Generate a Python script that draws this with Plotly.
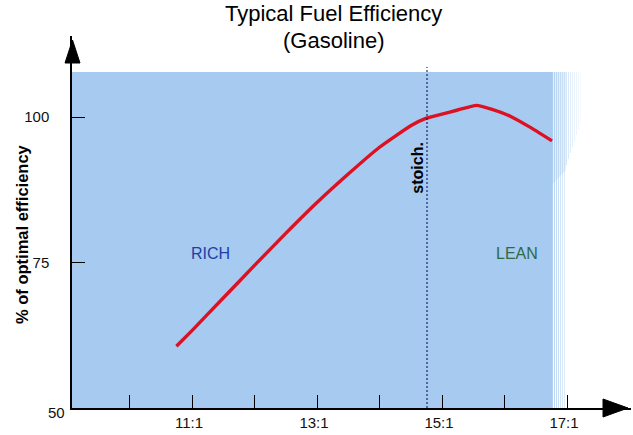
import plotly.graph_objects as go

# ---- data ----
afr_ratio = [10.75, 11.0, 11.5, 12.0, 12.5, 13.0, 13.5, 14.0, 14.5, 14.75, 15.0, 15.25, 15.55, 15.8, 16.1, 16.4, 16.76]
efficiency = [60.6, 63.3, 68.9, 74.5, 80.0, 85.3, 90.2, 94.8, 98.5, 99.8, 100.5, 101.2, 102.0, 101.3, 100.1, 98.3, 95.9]
x_tick_vals = [10, 11, 12, 13, 14, 15, 16, 17]
x_tick_text = ["", "11:1", "", "13:1", "", "15:1", "", "17:1"]
y_tick_vals = [75, 100]
y_tick_text = ["75", "100"]
stoich_ratio = 14.76

# ---- geometry (pixels) ----
W, H = 633, 435
ML, MR, MT, MB = 72, 2, 36, 27
X0_PX, X_UNIT = 129.5, 62.5      # pixel of x=10, px per unit
Y0_PX, Y_UNIT = 408.0, 5.82      # pixel of y=50, px per unit

def dx(p):
    return 10 + (p - X0_PX) / X_UNIT

def dy(p):
    return 50 + (Y0_PX - p) / Y_UNIT

def ppx(p):
    return (p - ML) / (W - ML - MR)

def ppy(p):
    return (H - MB - p) / (H - MT - MB)

xr = [dx(ML), dx(W - MR)]
yr = [50, dy(MT)]

BLUE = "#A6CAF0"
FONT = "Liberation Sans"

fig = go.Figure()
fig.add_trace(go.Scatter(
    x=afr_ratio, y=efficiency, mode="lines",
    line=dict(color="#DD1122", width=3.4, shape="spline", smoothing=0.4),
    hoverinfo="skip", showlegend=False,
))

shapes = []
# background panel
shapes.append(dict(type="rect", xref="x", yref="y", x0=xr[0], x1=dx(552), y0=50, y1=dy(72),
                   fillcolor=BLUE, line=dict(width=0), layer="below"))
# fading right edge stripes
for i, p in enumerate(range(552, 566, 2)):
    shapes.append(dict(type="rect", xref="x", yref="y", x0=dx(p), x1=dx(p + 1), y0=50, y1=dy(72),
                       fillcolor=BLUE, opacity=0.85 - i * 0.08, line=dict(width=0), layer="below"))
# dithered upper fade
for i, p in enumerate(range(566, 582, 2)):
    shapes.append(dict(type="rect", xref="x", yref="y", x0=dx(p), x1=dx(p + 1), y0=dy(165 - i * 6), y1=dy(72),
                       fillcolor=BLUE, opacity=0.45 - i * 0.05, line=dict(width=0), layer="below"))
shapes.append(dict(type="path", xref="x", yref="y",
                   path=f"M {dx(552)},{dy(72)} L {dx(566)},{dy(72)} L {dx(566)},{dy(170)} L {dx(552)},{dy(185)} Z",
                   fillcolor=BLUE, opacity=0.3, line=dict(width=0), layer="below"))
# stoichiometric line
shapes.append(dict(type="line", xref="x", yref="y", x0=stoich_ratio, x1=stoich_ratio, y0=50, y1=dy(67),
                   line=dict(color="#00004A", width=1, dash="2px,2px")))
# axis arrows (paper coords so they are not clipped)
shapes.append(dict(type="path", xref="paper", yref="paper",
                   path=f"M {ppx(628)},{ppy(408)} L {ppx(603)},{ppy(399)} L {ppx(603)},{ppy(417)} Z",
                   fillcolor="black", line=dict(color="black", width=1)))
shapes.append(dict(type="path", xref="paper", yref="paper",
                   path=f"M {ppx(72.5)},{ppy(40)} L {ppx(65)},{ppy(63)} L {ppx(80)},{ppy(63)} Z",
                   fillcolor="black", line=dict(color="black", width=1)))

C = dict(xanchor="center", yanchor="middle", showarrow=False)
annotations = [
    dict(text="Typical Fuel Efficiency", xref="paper", yref="paper", x=ppx(333.5), y=ppy(13),
         font=dict(family=FONT, size=22, color="black"), **C),
    dict(text="(Gasoline)", xref="paper", yref="paper", x=ppx(333.5), y=ppy(40),
         font=dict(family=FONT, size=22, color="black"), **C),
    dict(text="% of optimal efficiency", xref="paper", yref="paper", x=ppx(22), y=ppy(234), textangle=-90,
         font=dict(family=FONT, size=16.5, color="black", weight="bold"), **C),
    dict(text="50", xref="paper", yref="paper", x=ppx(56.7), y=ppy(412),
         font=dict(family=FONT, size=15, color="#111111"), **C),
    dict(text="stoich.", x=dx(416.7), y=dy(168), xref="x", yref="y", textangle=-90,
         font=dict(family=FONT, size=16, color="black", weight="bold"), **C),
    dict(text="RICH", x=dx(210.5), y=dy(253), xref="x", yref="y",
         font=dict(family=FONT, size=16, color="#1E3FA6"), **C),
    dict(text="LEAN", x=dx(517), y=dy(253), xref="x", yref="y",
         font=dict(family=FONT, size=16, color="#2F6A48"), **C),
]

fig.update_layout(
    width=W, height=H,
    margin=dict(l=ML, r=MR, t=MT, b=MB, pad=0),
    paper_bgcolor="white", plot_bgcolor="white",
    showlegend=False,
    shapes=shapes, annotations=annotations,
    xaxis=dict(range=xr, tickvals=x_tick_vals, ticktext=x_tick_text, ticks="inside", ticklen=13,
               tickcolor="black", tickwidth=1, showgrid=False, zeroline=False,
               showline=True, linecolor="black", linewidth=1.5, ticklabelstandoff=0, ticklabelshift=-3,
               tickfont=dict(family=FONT, size=15, color="#111111"), fixedrange=True),
    yaxis=dict(range=yr, tickvals=y_tick_vals, ticktext=y_tick_text, ticks="inside", ticklen=13,
               tickcolor="black", tickwidth=1, showgrid=False, zeroline=False,
               showline=True, linecolor="black", linewidth=1.5, ticklabelstandoff=18,
               tickfont=dict(family=FONT, size=15, color="#111111"), fixedrange=True),
)

fig.write_html("out.html", config={"displayModeBar": False},
               post_script="document.body.style.margin='0';document.body.style.padding='0';")
